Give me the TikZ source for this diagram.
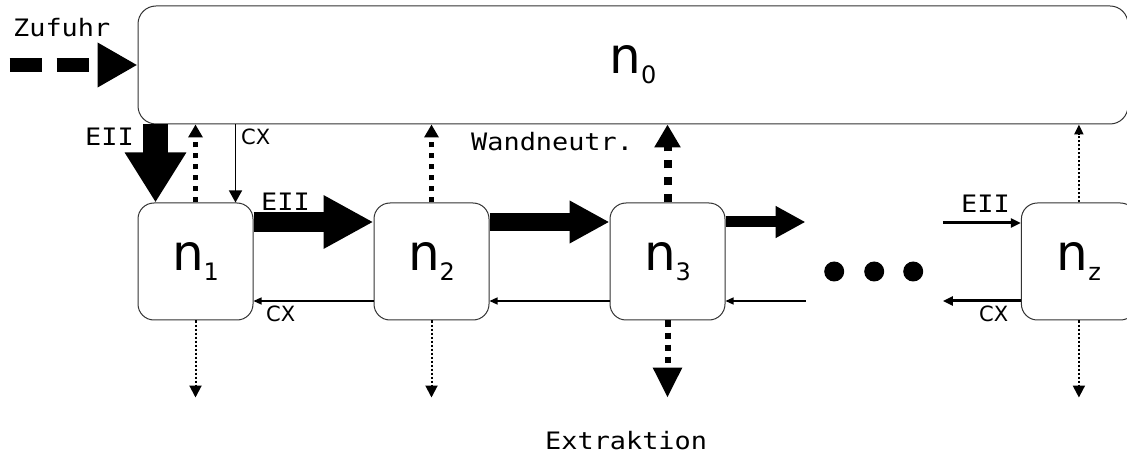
\documentclass[tikz,border=0pt]{standalone}
\usepackage{fontspec}
\setmainfont{DejaVu Sans}
\newfontfamily\lblfont[FakeStretch=1.12]{DejaVu Sans Mono}
\usetikzlibrary{arrows.meta}
\usetikzlibrary{positioning}
\newcommand{\spc}[1]{{\fontsize{50}{50}\selectfont n\raisebox{-10pt}{\fontsize{24}{24}\selectfont #1}}}

\begin{document}
\begin{tikzpicture}[x=1pt, y=-1pt,
    cell/.style={draw=black!80, line width=1pt, rounded corners=16pt,
      minimum width=115pt, minimum height=117pt, inner sep=0pt},
    lbl/.style={font=\lblfont\fontsize{24}{24}\selectfont, inner sep=0pt, anchor=base west},
    cxl/.style={font=\fontsize{21}{21}\selectfont, inner sep=0pt, anchor=base west},
    fat/.style args={#1/#2/#3}{line width=#1, -{Triangle[length=#2, width=#3]}},
    dot/.style={dash pattern=on #1 off #1}]
    \useasboundingbox (0,0) rectangle (1127,454);
    % compartments
    \node[cell, minimum width=990pt, minimum height=118pt, rounded corners=18pt] (n0) at (633,65) {\spc{0}\hspace{26pt}};
    \node[cell] (n1) at (195.5,261.5) {\spc{1}};
    \node[cell, right=120pt of n1] (n2) {\spc{2}};
    \node[cell, right=120pt of n2] (n3) {\spc{3}};
    \node[minimum width=137pt, minimum height=117pt, inner sep=0pt, right=80pt of n3] (dots) {};
    \node[cell, right=78pt of dots] (nz) {\spc{z}};
    \foreach \dx in {-40,0,39}
      \fill ([xshift=\dx pt, yshift=-10pt]dots.center) circle (10pt);
    % end points
    \coordinate[left=128pt of n0.west] (feed);
    \coordinate (eii0) at ([xshift=-40pt]n1.north);
    \coordinate (cx0) at ([xshift=40pt]n1.north);
    \foreach \n in {n1,n2,n3,nz}
      \coordinate (\n x) at ([yshift=-77pt]\n.south);
    % feed
    \draw[fat=14pt/40pt/42pt, dash pattern=on 32pt off 15pt] (feed) -- (n0.west);
    \node[lbl] (zuf) at (13,37) {Zufuhr};
    % n0 <-> n1
    \draw[fat=25pt/50pt/58pt] (eii0 |- n0.south) -- (eii0);
    \draw[fat=1.3pt/12pt/13pt] (cx0 |- n0.south) -- (cx0);
    \node[lbl] (eiiA) at (85,146) {EII};
    \node[cxl] (cxA) at (241,145) {CX};
    % chain
    \draw[fat=20pt/50pt/50pt] ([yshift=39.5pt]n1.east) -- ([yshift=39.5pt]n2.west);
    \draw[fat=18pt/40pt/40pt] ([yshift=39.5pt]n2.east) -- ([yshift=39.5pt]n3.west);
    \draw[fat=11pt/30pt/30pt] ([yshift=39.5pt]n3.east) -- ([yshift=39.5pt]dots.west);
    \draw[fat=3pt/10pt/9pt] ([yshift=38.5pt]dots.east) -- ([yshift=38.5pt]nz.west);
    \draw[fat=1.2pt/8pt/7pt] ([yshift=-39.5pt]n2.west) -- ([yshift=-39.5pt]n1.east);
    \draw[fat=1.2pt/8pt/7pt] ([yshift=-39.5pt]n3.west) -- ([yshift=-39.5pt]n2.east);
    \draw[fat=1.2pt/8pt/7pt] ([yshift=-39.5pt]dots.west) -- ([yshift=-39.5pt]n3.east);
    \draw[fat=3pt/10pt/9pt] ([yshift=-39.5pt]nz.west) -- ([yshift=-39.5pt]dots.east);
    \node[lbl] (eiiB) at (261,211) {EII};
    \node[cxl] (cxB) at (266,322) {CX};
    \node[lbl] (eiiC) at (961,213) {EII};
    \node[cxl] (cxC) at (979,322) {CX};
    % wall neutrals
    \draw[fat=5pt/13pt/14pt, dot=5.5pt] (n1.north) -- (n1.north |- n0.south);
    \draw[fat=5pt/13pt/14pt, dot=5.5pt] (n2.north) -- (n2.north |- n0.south);
    \draw[fat=8pt/23pt/25pt, dot=8.5pt] (n3.north) -- (n3.north |- n0.south);
    \draw[fat=2pt/10pt/9pt, dot=2pt] (nz.north) -- (nz.north |- n0.south);
    \node[lbl] (wand) at (471,151) {Wandneutr.};
    % extraction
    \draw[fat=2pt/12pt/12pt, dot=2pt] (n1.south) -- (n1x);
    \draw[fat=2pt/12pt/12pt, dot=2pt] (n2.south) -- (n2x);
    \draw[fat=6pt/30pt/28pt, dot=6pt] (n3.south) -- (n3x);
    \draw[fat=2pt/12pt/12pt, dot=2pt] (nz.south) -- (nzx);
    \node[lbl] (extr) at (545,449) {Extraktion};
\end{tikzpicture}
\end{document}
